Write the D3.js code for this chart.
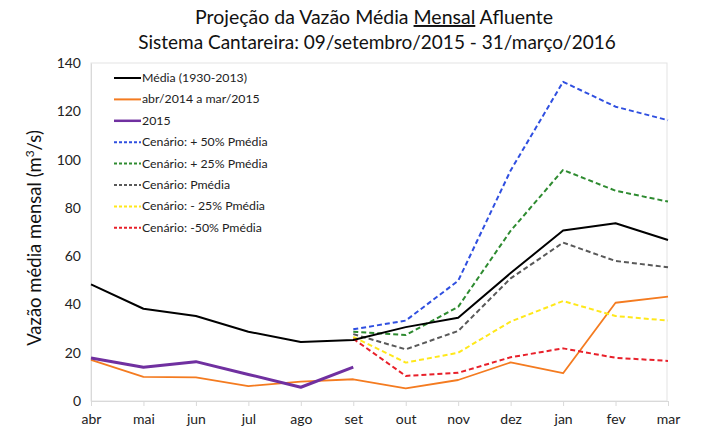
<!DOCTYPE html>
<html><head><meta charset="utf-8">
<script src="https://cdn.jsdelivr.net/npm/d3@7"></script>
<style>body{margin:0;background:#fff;}svg{display:block;font-family:Lato,"Open Sans",sans-serif;}</style>
</head><body><svg id="c" width="709" height="438"></svg>
<script>
const months = ["abr","mai","jun","jul","ago","set","out","nov","dez","jan","fev","mar"];
const yTicks = [0,20,40,60,80,100,120,140];
const media = [48.3,38.2,35.2,28.7,24.4,25.3,30.6,34.5,53,70.6,73.6,66.7];
const abr14mar15 = [17,10,9.8,6.2,8,9,5.2,8.7,16,11.5,40.7,43.2];
const ano2015 = [17.8,14,16.3,11,5.7,14];
const cen50 = [29.7,33.3,49.8,95.5,132.2,121.9,116.3];
const cen25 = [28.7,27.3,39,70.5,95.7,87.1,82.6];
const cenP = [27.7,21.4,29,50.8,65.6,58,55.4];
const cenM25 = [26.6,15.9,20,32.9,41.4,35.2,33.3];
const cenM50 = [25.8,10.4,11.7,18.1,21.8,17.9,16.6];
const legendLabels = ["Média (1930-2013)","abr/2014 a mar/2015","2015","Cenário: + 50% Pmédia","Cenário: + 25% Pmédia","Cenário: Pmédia","Cenário: - 25% Pmédia","Cenário: -50% Pmédia"];

const series = [
  {vals:media, start:0, color:"#000000", w:2, dash:null},
  {vals:abr14mar15, start:0, color:"#f47b20", w:1.8, dash:null},
  {vals:ano2015, start:0, color:"#7030a0", w:3, dash:null},
  {vals:cen50, start:5, color:"#2f4fe0", w:2, dash:"5,3"},
  {vals:cen25, start:5, color:"#2e8b30", w:2, dash:"5,3"},
  {vals:cenP, start:5, color:"#595959", w:2, dash:"5,3"},
  {vals:cenM25, start:5, color:"#ffe81a", w:2, dash:"5,3"},
  {vals:cenM50, start:5, color:"#e8202a", w:2, dash:"5,3"}
];
const drawOrder = [1,2,7,6,5,4,3,0];

const svg = d3.select("#c");
const L=91, R=668, T=63, B=401;
const x = d3.scalePoint().domain(months).range([L,R]);
const y = d3.scaleLinear().domain([0,140]).range([B,T]);

svg.append("rect").attr("x",L).attr("y",T).attr("width",R-L-1).attr("height",B-T)
  .attr("fill","none").attr("stroke","#e3e3e3").attr("stroke-width",1);

const gx = svg.append("g").attr("transform",`translate(0,${B})`)
  .call(d3.axisBottom(x).tickSize(5).tickPadding(8));
gx.select(".domain").attr("stroke","#d9d9d9");
gx.selectAll(".tick line").attr("stroke","#d9d9d9");
gx.selectAll(".tick text").attr("font-size",14).attr("fill","#222").attr("font-family","Lato, sans-serif");

const gy = svg.append("g").attr("transform",`translate(${L},0)`)
  .call(d3.axisLeft(y).tickValues(yTicks).tickSize(0).tickPadding(10));
gy.select(".domain").attr("stroke","#d9d9d9");
gy.selectAll(".tick text").attr("font-size",14).attr("fill","#222").attr("font-family","Lato, sans-serif");

const line = d3.line().x(d=>x(months[d.i])).y(d=>y(d.v));
drawOrder.forEach(k=>{
  const s = series[k];
  const pts = s.vals.map((v,j)=>({i:s.start+j,v}));
  svg.append("path").datum(pts).attr("d",line).attr("fill","none")
    .attr("stroke",s.color).attr("stroke-width",s.w)
    .attr("stroke-dasharray",s.dash).attr("stroke-linejoin","round");
});

// legend
const lg = svg.append("g");
legendLabels.forEach((t,k)=>{
  const s = series[k];
  const yy = 78 + k*21.4;
  lg.append("line").attr("x1",114).attr("x2",141).attr("y1",yy).attr("y2",yy)
    .attr("stroke",s.color).attr("stroke-width",s.w===3?2.5:2).attr("stroke-dasharray",s.dash?"3,2":null);
  lg.append("text").attr("x",142).attr("y",yy+4).attr("font-size",12.3).attr("fill","#222").text(t);
});

// titles
const t1 = svg.append("text").attr("x",374).attr("y",24).attr("text-anchor","middle").attr("font-size",19.5).attr("fill","#111");
t1.append("tspan").text("Projeção da Vazão Média ");
t1.append("tspan").attr("text-decoration","underline").text("Mensal");
t1.append("tspan").text(" Afluente");
svg.append("text").attr("x",377).attr("y",49).attr("text-anchor","middle").attr("font-size",19).attr("fill","#111")
  .text("Sistema Cantareira: 09/setembro/2015 - 31/março/2016");

const yl = svg.append("text").attr("transform","translate(41,238) rotate(-90)").attr("text-anchor","middle").attr("font-size",18.5).attr("fill","#111");
yl.append("tspan").text("Vazão média mensal (m");
yl.append("tspan").attr("font-size",12).attr("dy",-7).text("3");
yl.append("tspan").attr("dy",7).text("/s)");
</script></body></html>
